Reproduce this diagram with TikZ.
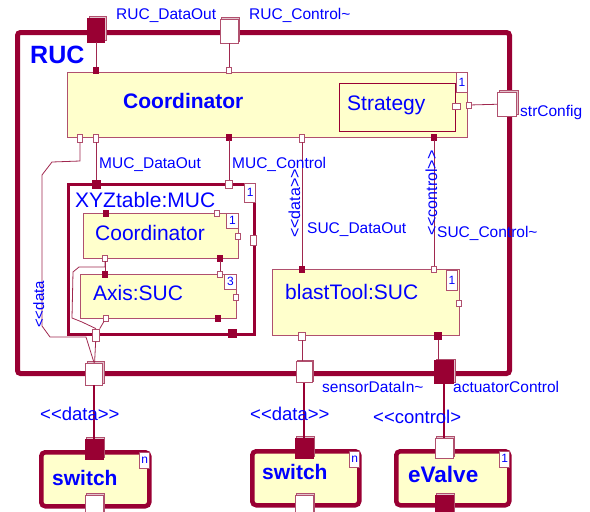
\documentclass[tikz,border=0pt]{standalone}
\usepackage{fontspec}
\setmainfont{Liberation Sans}
\usepackage{tikz}
\usetikzlibrary{shadows}
\definecolor{rucred}{HTML}{990033}
\definecolor{partline}{HTML}{B0506E}
\definecolor{partfill}{HTML}{FFFFCC}
\definecolor{wirered}{HTML}{A0284F}
\definecolor{txtblue}{HTML}{0000FF}

\begin{document}
\begin{tikzpicture}[x=1pt,y=-1pt,
    frame/.style={draw=rucred,line width=#1,rounded corners=3pt,inner sep=0pt,anchor=north west},
    part/.style={draw=partline,fill=partfill,line width=0.9pt,inner sep=0pt,anchor=north west},
    capsule/.style={part,draw=rucred,line width=4.5pt,rounded corners=4pt},
    mult/.style={draw=partline,fill=white,line width=0.7pt,inner sep=0pt,anchor=north east,
        minimum width=11pt,minimum height=19pt,text=txtblue,font=\fontsize{12}{12}\selectfont},
    bigport/.style={draw=partline,line width=0.8pt,inner sep=0pt,
        copy shadow={shadow xshift=1.5pt,shadow yshift=1.5pt,draw=partline,fill=partline!35}},
    inport/.style={bigport,fill=white},
    outport/.style={bigport,fill=rucred,draw=rucred},
    pin/.style={draw=partline,fill=white,line width=0.7pt,inner sep=0pt,minimum width=5pt,minimum height=6pt},
    pinf/.style={pin,fill=rucred,draw=rucred},
    wire/.style={draw=wirered,line width=0.8pt},
    link/.style={draw=rucred,line width=2pt},
    lbl/.style={text=txtblue,font=\fontsize{15.5}{16}\selectfont,inner sep=0pt,anchor=base west},
    stereo/.style={lbl,font=\fontsize{18.5}{19}\selectfont},
    ttl/.style={lbl,font=\fontsize{21}{21}\selectfont},
    bttl/.style={lbl,font={\bfseries\fontsize{21}{21}\selectfont}}]

    \clip (0,0) rectangle (590,512);

    % RUC frame
    \node[frame=5pt,minimum width=492pt,minimum height=341pt] (ruc) at (15,30) {};
    \node[lbl,font={\bfseries\fontsize{25}{25}\selectfont}] (ruct) at (30,63) {RUC};

    % Coordinator with Strategy
    \node[part,minimum width=400pt,minimum height=65pt] (coord) at (67,72) {};
    \node[mult,minimum height=20pt] (coordm) at (coord.north east) {1};
    \node[bttl] (coordt) at (123,108) {Coordinator};
    \node[part,draw=rucred,minimum width=116pt,minimum height=48pt] (strat) at (339,83) {};
    \node[ttl] (stratt) at (347,110) {Strategy};
    \node[pin,minimum width=8pt] (sp1) at (456,106) {};

    % ports of the Coordinator
    \node[pinf] (cp1) at (96,70) {};
    \node[pin] (cp2) at (229,70) {};
    \node[pin,minimum height=8pt] (cp3) at (80,138) {};
    \node[pin,minimum height=8pt] (cp4) at (96,138) {};
    \node[pinf] (cp5) at (229,137) {};
    \node[pin,minimum height=8pt] (cp6) at (302,138) {};
    \node[pinf] (cp7) at (434,137) {};
    \node[pin] (cp8) at (469,105) {};

    % XYZtable:MUC
    \node[part,fill=white,draw=rucred,line width=3pt,minimum width=186pt,minimum height=150pt] (muc) at (67,183) {};
    \node[mult] (mucm) at (muc.north east) {1};
    \node[ttl] (muct) at (75,207) {XYZtable:MUC};
    \node[pinf,minimum width=8pt,minimum height=8pt] (mp1) at (96,184) {};
    \node[pin,minimum width=7pt,minimum height=8pt] (mp2) at (229,184) {};
    \node[pin,minimum width=6pt,minimum height=10pt] (mp3) at (253,240) {};
    \node[pinf,minimum width=8pt,minimum height=8pt] (mp4) at (232,333) {};
    \node[pin,minimum width=7pt,minimum height=12pt] (mp5) at (96,335) {};

    % inner Coordinator
    \node[part,minimum width=155pt,minimum height=45pt] (icoord) at (83,213) {};
    \node[mult,minimum width=12pt,minimum height=15pt] (icoordm) at (icoord.north east) {1};
    \node[ttl] (icoordt) at (95,240) {Coordinator};
    \node[pinf] (ip1) at (106,213) {};
    \node[pin] (ip2) at (217,213) {};
    \node[pin] (ip3) at (238,236) {};
    \node[pin] (ip4) at (105,258) {};
    \node[pinf] (ip5) at (220,258) {};

    % Axis:SUC
    \node[part,minimum width=156pt,minimum height=44pt] (axis) at (80,274) {};
    \node[mult,minimum width=12pt,minimum height=15pt] (axism) at (axis.north east) {3};
    \node[ttl] (axist) at (93,300) {Axis:SUC};
    \node[pinf] (ap1) at (105,274) {};
    \node[pin] (ap2) at (220,274) {};
    \node[pin] (ap3) at (236,297) {};
    \node[pin] (ap4) at (106,318) {};
    \node[pinf] (ap5) at (218,318) {};

    % blastTool:SUC
    \node[part,minimum width=187pt,minimum height=66pt] (blast) at (272,269) {};
    \node[mult,minimum height=20pt,xshift=-2pt,yshift=-1pt] (blastm) at (blast.north east) {1};
    \node[ttl] (blastt) at (285,299) {blastTool:SUC};
    \node[pinf] (bp1) at (302,269) {};
    \node[pin] (bp2) at (434,269) {};
    \node[pin] (bp3) at (459,303) {};
    \node[pin,minimum width=7pt,minimum height=8pt] (bp4) at (302,336) {};
    \node[pinf,minimum width=7pt,minimum height=7pt] (bp5) at (438,336) {};

    % ports of RUC
    \node[outport,minimum width=17pt,minimum height=24pt] (pdo) at (96,30) {};
    \node[inport,minimum width=18pt,minimum height=24pt] (pctl) at (229,31) {};
    \node[inport,minimum width=19pt,minimum height=24pt] (pcfg) at (507,104) {};
    \node[inport,minimum width=17pt,minimum height=22pt] (psd) at (94,374) {};
    \node[inport,minimum width=16pt,minimum height=21pt] (psi) at (304,372) {};
    \node[outport,minimum width=19pt,minimum height=23pt] (pac) at (444,372) {};

    % switch, switch and eValve
    \node[capsule,minimum width=108pt,minimum height=54pt] (sw1) at (39,450) {};
    \node[capsule,minimum width=107pt,minimum height=54pt] (sw2) at (250,449) {};
    \node[capsule,minimum width=113pt,minimum height=54pt] (ev) at (394,449) {};
    \node[mult,minimum width=10pt,minimum height=16pt,xshift=-1.5pt,yshift=-1.5pt] (sw1m) at (sw1.north east) {n};
    \node[mult,minimum width=10pt,minimum height=16pt,xshift=-1.5pt,yshift=-1.5pt] (sw2m) at (sw2.north east) {n};
    \node[mult,minimum width=10pt,minimum height=16pt,xshift=-1.5pt,yshift=-1.5pt] (evm) at (ev.north east) {1};
    \node[bttl] (sw1t) at (52,485) {switch};
    \node[bttl] (sw2t) at (262,479) {switch};
    \node[bttl,font={\bfseries\fontsize{22.5}{22}\selectfont}] (evt) at (408,482) {eValve};
    \node[outport,minimum width=18pt,minimum height=20pt] (s1p1) at (94,449) {};
    \node[inport,minimum width=18pt,minimum height=20pt] (s1p2) at (94,505) {};
    \node[outport,minimum width=18pt,minimum height=20pt] (s2p1) at (304,448) {};
    \node[inport,minimum width=18pt,minimum height=20pt] (s2p2) at (304,505) {};
    \node[inport,minimum width=18pt,minimum height=20pt] (evp1) at (444,448) {};
    \node[outport,minimum width=18pt,minimum height=20pt] (evp2) at (444,505) {};

    % connectors
    \draw[wire] (pdo) -- (cp1);
    \draw[wire] (pctl) -- (cp2);
    \draw[wire] (cp8) -- (pcfg);
    \draw[wire] (cp4) -- (mp1);
    \draw[wire] (cp5) -- (mp2);
    \draw[wire] (cp6) -- (bp1);
    \draw[wire] (cp7) -- (bp2);
    \draw[wire] (ip4) -- (ap1);
    \draw[wire] (ip5) -- (ap2);
    \draw[wire] (ip4.south) -- (105,267) -- (79,267) -- (73,272) -- (72,318) -- (82,322) -- (mp5.north);
    \draw[wire] (ap4) -- (mp5);
    \draw[wire] (mp5) -- (psd);
    \draw[wire] (cp3.south) -- (80,161) -- (52,162) -- (42,175) -- (42,326) -- (50,337) -- (86,337) -- (psd.north);
    \draw[wire] (bp4) -- (bp4 |- psi.north);
    \draw[wire] (bp5) -- (bp5 |- pac.north);
    \draw[link] (psd) -- (s1p1);
    \draw[link] (psi) -- (s2p1);
    \draw[link] (pac) -- (evp1);

    % labels
    \node[lbl] (ldo) at (116,19) {RUC\_DataOut};
    \node[lbl] (lctl) at (249,19) {RUC\_Control\textasciitilde};
    \node[lbl] (lcfg) at (520,116) {strConfig};
    \node[lbl] (lmdo) at (99,168) {MUC\_DataOut};
    \node[lbl] (lmctl) at (232,168) {MUC\_Control};
    \node[lbl] (lsdo) at (307,233) {SUC\_DataOut};
    \node[lbl] (lsctl) at (437,237) {SUC\_Control\textasciitilde};
    \node[lbl,font=\fontsize{16}{16}\selectfont,rotate=90] (rdat) at (300,238) {<\kern0pt<data>\kern0pt>};
    \node[lbl,font=\fontsize{16}{16}\selectfont,rotate=90] (rctl) at (437,236) {<\kern0pt<control>\kern0pt>};
    \node[lbl,font=\fontsize{15}{15}\selectfont,rotate=90] (rdl) at (44,328) {<\kern0pt<data};
    \node[lbl] (lsin) at (322,392) {sensorDataIn\textasciitilde};
    \node[lbl] (lact) at (453,392) {actuatorControl};
    \node[stereo] (st1) at (40,420) {<\kern0pt<data>\kern0pt>};
    \node[stereo] (st2) at (250,420) {<\kern0pt<data>\kern0pt>};
    \node[stereo] (st3) at (373,423) {<\kern0pt<control>};

\end{tikzpicture}
\end{document}
